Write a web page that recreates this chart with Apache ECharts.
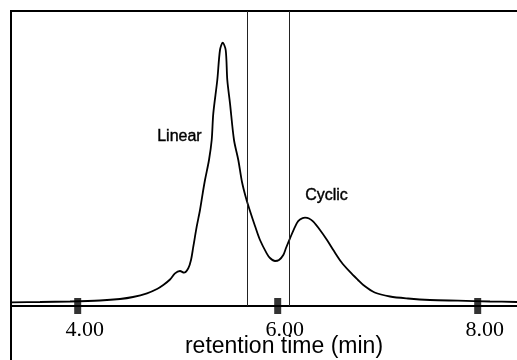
<!DOCTYPE html>
<html>
<head>
<meta charset="utf-8">
<title>Chromatogram</title>
<script src="https://cdn.jsdelivr.net/npm/echarts@6/dist/echarts.min.js"></script>
<style>
  html, body { margin: 0; padding: 0; background: #fff; }
  #chart { width: 517px; height: 360px; }
</style>
</head>
<body>
<div id="chart"></div>
<script>
// retention time (min) and detector signal (relative units)
const timeMin = [
  3.333, 3.623, 3.923, 4.223, 4.423, 4.553, 4.693, 4.793, 4.856, 4.923,
  4.973, 5.023, 5.063, 5.106, 5.133, 5.156, 5.190, 5.223, 5.250, 5.273,
  5.313, 5.340, 5.356, 5.396, 5.423, 5.450, 5.480, 5.496, 5.523, 5.563,
  5.606, 5.643, 5.683, 5.723, 5.773, 5.823, 5.890, 5.923, 5.973, 6.013,
  6.056, 6.083, 6.123, 6.190, 6.223, 6.273, 6.313, 6.356, 6.423, 6.493,
  6.556, 6.636, 6.723, 6.803, 6.856, 6.970, 7.123, 7.303, 7.523, 7.803,
  8.123, 8.393
];
const signal = [
  1.25, 1.36, 1.53, 1.86, 2.37, 3.05, 4.31, 5.76, 7.12, 8.98,
  11.08, 11.86, 11.29, 12.78, 15.59, 20.10, 26.88, 32.54, 38.20, 42.71,
  49.49, 56.27, 65.32, 76.61, 86.78, 89.25, 86.78, 76.61, 68.71, 56.27,
  49.49, 42.03, 36.61, 32.20, 27.12, 22.37, 17.86, 16.27, 15.25, 15.59,
  17.29, 19.66, 22.95, 28.03, 29.32, 29.93, 29.66, 28.58, 25.76, 22.37,
  18.98, 14.92, 11.53, 8.81, 7.12, 4.58, 3.22, 2.54, 2.03, 1.80,
  1.53, 1.36
];
const tickValues = [4, 6, 8];
const cutLines = [5.70, 6.12];   // fraction collection window
const peakNames = ['Linear', 'Cyclic'];

const myChart = echarts.init(document.getElementById('chart'));

const option = {
  animation: false,
  grid: {
    left: 11,
    top: 11,
    right: -5,
    bottom: 54,
    outerBoundsMode: 'none',
    containLabel: false,
    show: true,
    borderColor: '#000',
    borderWidth: 2,
  },
  xAxis: {
    type: 'value',
    min: 3.333,
    max: 8.443,
    name: 'retention time (min)',
    nameLocation: 'middle',
    nameGap: 29,
    nameMoveOverlap: false,
    nameTextStyle: {
      fontFamily: 'Liberation Sans',
      fontSize: 23,
      color: '#000',
      padding: [0, 0, 0, 35],
    },
    axisLine: { lineStyle: { color: '#000', width: 2 } },
    axisTick: { show: false },
    splitLine: { show: false },
    axisLabel: {
      customValues: tickValues,
      formatter: (v) => v.toFixed(2),
      fontFamily: 'Liberation Serif',
      fontSize: 22,
      color: '#000',
      margin: 13,
      padding: [0, 0, 0, 14],
    },
  },
  yAxis: {
    type: 'value',
    min: 0,
    max: 100,
    axisLine: { show: false },
    axisTick: { show: false },
    axisLabel: { show: false },
    splitLine: { show: false },
  },
  series: [
    {
      type: 'line',
      data: timeMin.map((t, i) => [t, signal[i]]),
      smooth: 0.3,
      symbol: 'none',
      lineStyle: { color: '#000', width: 1.8 },
      markLine: {
        silent: true,
        symbol: 'none',
        label: { show: false },
        lineStyle: { color: '#222', width: 1, type: 'solid' },
        data: cutLines.map((x) => [{ coord: [x, 0] }, { coord: [x, 100] }]),
      },
    },
    {
      // the heavy tick marks sit across the axis line
      type: 'scatter',
      data: tickValues.map((t) => [t, 0]),
      symbol: 'rect',
      symbolSize: [7, 16],
      itemStyle: { color: '#000' },
      clip: false,
      z: 5,
    },
  ],
  graphic: [
    {
      // frame's left edge runs on below the axis
      type: 'line',
      shape: { x1: 11, y1: 306, x2: 11, y2: 360 },
      style: { stroke: '#000', lineWidth: 2 },
    },
    {
      type: 'text',
      left: 157,
      top: 128,
      style: {
        text: peakNames[0],
        font: '16px "Liberation Sans"',
        fill: '#000',
        stroke: '#000',
        lineWidth: 0.4,
      },
    },
    {
      type: 'text',
      left: 305,
      top: 187,
      style: {
        text: peakNames[1],
        font: '16px "Liberation Sans"',
        fill: '#000',
        stroke: '#000',
        lineWidth: 0.4,
      },
    },
  ],
};

myChart.setOption(option);
</script>
</body>
</html>
